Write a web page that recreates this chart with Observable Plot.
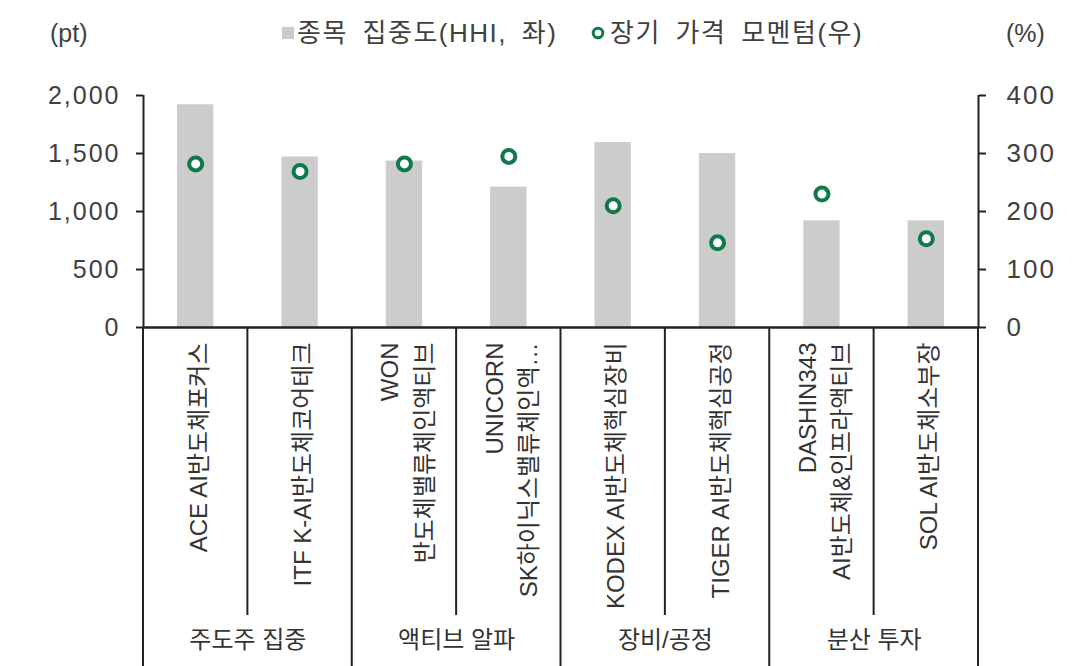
<!DOCTYPE html>
<html>
<head>
<meta charset="utf-8">
<script src="https://cdn.jsdelivr.net/npm/d3@7"></script>
<script src="https://cdn.jsdelivr.net/npm/@observablehq/plot@0.6"></script>
<style>
  body { margin: 0; background: #fff; }
  #head { position: relative; width: 1084px; height: 70px; font-family: "Liberation Sans", "Noto Sans CJK KR", sans-serif; font-size: 25px; color: #404040; }
  #head .it { position: absolute; top: 18px; line-height: 30px; white-space: nowrap; display: flex; align-items: center; }
  #head .lg { font-size: 26px; letter-spacing: 1.5px; word-spacing: 6px; }
  #head .sq { display: inline-block; width: 12px; height: 12px; background: #cccccc; margin-right: 3px; }
  #head svg { margin-right: 4px; }
  #chart svg g[aria-label="y-axis tick label"] text { letter-spacing: 2px; }
</style>
</head>
<body>
<div id="head">
  <div class="it" style="left:50px">(pt)</div>
  <div class="it" style="left:282px"><span class="sq"></span><span class="lg">종목 집중도(HHI, 좌)</span></div>
  <div class="it" style="left:590px"><svg width="16" height="16"><circle cx="8" cy="8" r="4.8" fill="#fff" stroke="#0f7a48" stroke-width="3"/></svg><span class="lg">장기 가격 모멘텀(우)</span></div>
  <div class="it" style="left:1006px">(%)</div>
</div>
<div id="chart"></div>
<script>
const categories = [
  "ACE AI반도체포커스",
  "ITF K-AI반도체코어테크",
  "WON\n반도체밸류체인액티브",
  "UNICORN\nSK하이닉스밸류체인액…",
  "KODEX AI반도체핵심장비",
  "TIGER AI반도체핵심공정",
  "DASHIN343\nAI반도체&인프라액티브",
  "SOL AI반도체소부장"
];
const groups = ["주도주 집중", "주도주 집중", "액티브 알파", "액티브 알파", "장비/공정", "장비/공정", "분산 투자", "분산 투자"];
const hhi = [1920, 1470, 1435, 1210, 1595, 1500, 920, 920];
const momentum = [282, 269, 282, 295, 210, 146, 230, 153];
const leftTicks = [0, 500, 1000, 1500, 2000];
const rightTicks = [0, 100, 200, 300, 400];

const n = categories.length;
const ratio = leftTicks[leftTicks.length - 1] / rightTicks[rightTicks.length - 1];
const rows = categories.map((c, i) => ({i, label: c, group: groups[i], hhi: hhi[i], mom: momentum[i]}));
const groupRows = [...new Set(groups)].map(g => {
  const idx = groups.map((d, i) => d === g ? i : -1).filter(i => i >= 0);
  return {group: g, start: idx[0], end: idx[idx.length - 1] + 1};
});
const boundaries = d3.range(n + 1).map(b => ({b, major: b === 0 || b === n || groups[b] !== groups[b - 1]}));

const tableLines = (index, scales, values, dims) => {
  const g = d3.create("svg:g");
  const y0 = scales.y(0);
  for (const {b, major} of boundaries) {
    const x = scales.x(b);
    g.append("line")
      .attr("x1", x).attr("x2", x)
      .attr("y1", y0).attr("y2", major ? dims.height : y0 + 288)
      .attr("stroke", "#222").attr("stroke-width", 2);
  }
  return g.node();
};

const chart = Plot.plot({
  width: 1084,
  height: 596,
  marginTop: 25,
  marginBottom: 339,
  marginLeft: 143,
  marginRight: 106,
  style: {fontFamily: '"Liberation Sans", "Noto Sans CJK KR", sans-serif', fontSize: "24px", background: "#fff", overflow: "visible"},
  x: {type: "linear", domain: [0, n], axis: null},
  y: {domain: [0, leftTicks[leftTicks.length - 1]]},
  marks: [
    Plot.rectY(rows, {x1: d => d.i, x2: d => d.i + 1, y1: 0, y2: "hhi", fill: "#cccccc", insetLeft: 34, insetRight: 34}),
    Plot.axisY({anchor: "left", ticks: leftTicks, tickFormat: d3.format(","), tickSize: 7, tickPadding: 16, fontSize: 25, color: "#404040", stroke: "#222", strokeWidth: 2, label: null}),
    Plot.axisY({anchor: "right", ticks: rightTicks.map(v => v * ratio), tickFormat: d => d / ratio, tickSize: 7, tickPadding: 21, fontSize: 26, color: "#404040", stroke: "#222", strokeWidth: 2, label: null}),
    Plot.ruleX([0, n], {y1: 0, y2: leftTicks[leftTicks.length - 1], stroke: "#222", strokeWidth: 2}),
    tableLines,
    Plot.ruleY([0], {stroke: "#222", strokeWidth: 2.5}),
    Plot.dot(rows, {x: d => d.i + 0.5, y: d => d.mom * ratio, r: 6.5, fill: "#fff", stroke: "#0f7a48", strokeWidth: 4}),
    Plot.text(rows, {x: d => d.i + 0.5, y: 0, text: "label", rotate: -90, textAnchor: "end", lineAnchor: "middle", lineHeight: 1.45, dy: 15, fontSize: 24, fill: "#333"}),
    Plot.text(groupRows, {x: d => (d.start + d.end) / 2, y: 0, text: "group", dy: 313, fontSize: 24, fill: "#333"})
  ]
});
document.getElementById("chart").appendChild(chart);
</script>
</body>
</html>
